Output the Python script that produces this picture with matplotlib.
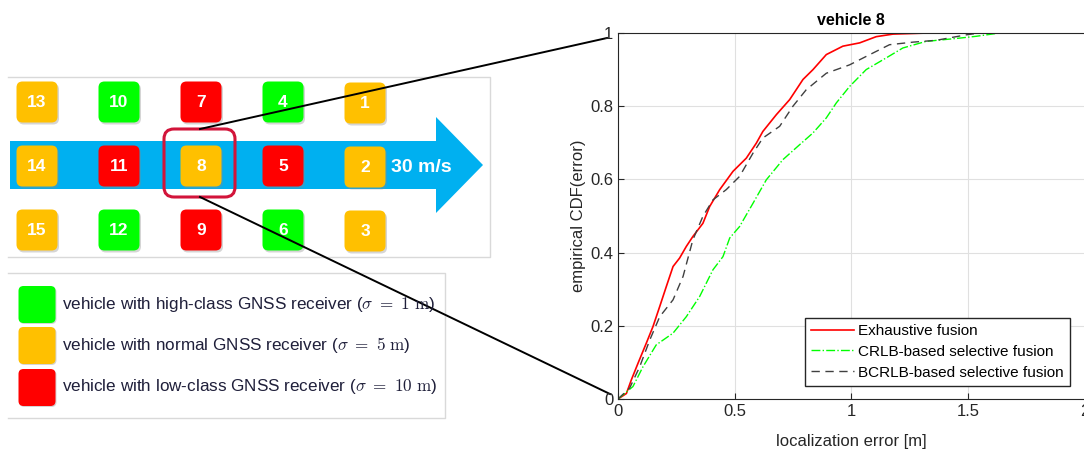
import matplotlib
matplotlib.use("Agg")
import matplotlib.pyplot as plt
from matplotlib.patches import FancyBboxPatch, Polygon

plt.rcParams["font.family"] = ["Liberation Sans", "DejaVu Sans"]
plt.rcParams["mathtext.fontset"] = "cm"

# vehicle grid (rows top->bottom, columns left->right)
vehicle_ids = [[13, 10, 7, 4, 1],
               [14, 11, 8, 5, 2],
               [15, 12, 9, 6, 3]]
vehicle_class = [["normal", "high", "low", "high", "normal"],
                 ["normal", "low", "normal", "low", "normal"],
                 ["normal", "high", "low", "high", "normal"]]
class_colors = {"high": "#00FF00", "normal": "#FFC000", "low": "#FF0000"}
legend_labels = [
    ("high", r"vehicle with high-class GNSS receiver ($\sigma\ =\ 1\ \mathrm{m}$)"),
    ("normal", r"vehicle with normal GNSS receiver ($\sigma\ =\ 5\ \mathrm{m}$)"),
    ("low", r"vehicle with low-class GNSS receiver ($\sigma\ =\ 10\ \mathrm{m}$)"),
]
speed_label = "30 m/s"
focus_vehicle = 8

# empirical CDF curves
exh_err = [0, 0.036, 0.057, 0.086, 0.121, 0.15, 0.179, 0.207, 0.236, 0.264, 0.293, 0.321,
           0.364, 0.393, 0.436, 0.493, 0.55, 0.593, 0.621, 0.679, 0.736, 0.793, 0.836,
           0.893, 0.964, 1.036, 1.107, 1.179, 1.33]
exh_cdf = [0, 0.015, 0.052, 0.098, 0.152, 0.198, 0.253, 0.307, 0.362, 0.385, 0.417, 0.444,
           0.48, 0.526, 0.572, 0.622, 0.658, 0.699, 0.731, 0.777, 0.818, 0.873, 0.9,
           0.941, 0.964, 0.973, 0.99, 0.997, 1.0]
crlb_err = [0, 0.064, 0.107, 0.164, 0.236, 0.293, 0.35, 0.407, 0.45, 0.479, 0.521, 0.579,
            0.636, 0.707, 0.779, 0.836, 0.893, 0.936, 0.993, 1.064, 1.15, 1.221, 1.32,
            1.464, 1.536, 1.636]
crlb_cdf = [0, 0.034, 0.088, 0.148, 0.18, 0.225, 0.28, 0.353, 0.389, 0.44, 0.471, 0.535,
            0.599, 0.654, 0.695, 0.727, 0.768, 0.809, 0.854, 0.9, 0.932, 0.959, 0.977,
            0.986, 0.991, 1.0]
bcrlb_err = [0, 0.05, 0.093, 0.136, 0.179, 0.236, 0.279, 0.321, 0.364, 0.407, 0.464, 0.521,
             0.579, 0.621, 0.693, 0.75, 0.807, 0.893, 0.993, 1.064, 1.164, 1.264, 1.364,
             1.493, 1.55]
bcrlb_cdf = [0, 0.03, 0.088, 0.161, 0.225, 0.271, 0.335, 0.435, 0.499, 0.544, 0.572, 0.608,
             0.672, 0.713, 0.745, 0.8, 0.845, 0.89, 0.913, 0.936, 0.968, 0.975, 0.98,
             0.995, 1.0]

W, H = 1084, 450
fig = plt.figure(figsize=(W / 100, H / 100), dpi=100)

# ---- left: scenario diagram, drawn in pixel coordinates ----
ov = fig.add_axes([0, 0, 1, 1])
ov.set_xlim(0, W)
ov.set_ylim(H, 0)
ov.axis("off")

panel = "#d9d9d9"
ov.plot([8, 490, 490, 8], [77, 77, 257, 257], color=panel, lw=1)
ov.plot([8, 445, 445, 8], [273, 273, 418, 418], color=panel, lw=1)

# arrow
ov.add_patch(Polygon([(10, 141), (436, 141), (436, 117), (483, 165), (436, 213),
                      (436, 189), (10, 189)], closed=True, color="#00B0F0", lw=0))
ov.text(421, 167, speed_label, color="white", fontsize=14, fontweight="bold",
        ha="center", va="center")

col_x = [37, 119, 201, 283, 365]
row_y = [102, 166, 230]
box = 41
for r, row in enumerate(vehicle_ids):
    for c, vid in enumerate(row):
        cx, cy = col_x[c], row_y[r] + (1 if c == 4 else 0)
        ov.add_patch(FancyBboxPatch((cx - box / 2 + 1.5, cy - box / 2 + 2), box, box,
                                    boxstyle="round,pad=0,rounding_size=6",
                                    fc="#888888", ec="none", alpha=0.35))
        ov.add_patch(FancyBboxPatch((cx - box / 2, cy - box / 2), box, box,
                                    boxstyle="round,pad=0,rounding_size=6",
                                    fc=class_colors[vehicle_class[r][c]], ec="none"))
        ov.text(cx, cy + 0.5, str(vid), color="white", fontsize=12.5, fontweight="bold",
                ha="center", va="center")

# highlight around the focus vehicle
ov.add_patch(FancyBboxPatch((164, 129), 71, 68, boxstyle="round,pad=0,rounding_size=10",
                            fc="none", ec="#D2143A", lw=2.2))

# zoom lines to the CDF plot
ov.plot([200, 607], [129, 38], color="black", lw=1.4)
ov.plot([200, 610], [197, 394], color="black", lw=1.4)

# class legend
leg_y = [304, 345, 387]
for (cls, label), y in zip(legend_labels, leg_y):
    ov.add_patch(FancyBboxPatch((19.5, y - 17), 37, 37, boxstyle="round,pad=0,rounding_size=5",
                                fc="#888888", ec="none", alpha=0.35))
    ov.add_patch(FancyBboxPatch((18.5, y - 18), 37, 37, boxstyle="round,pad=0,rounding_size=5",
                                fc=class_colors[cls], ec="none"))
    ov.text(62, y, label, color="#1f1f3a", fontsize=12.3, ha="left", va="center")

# ---- right: empirical CDF ----
ax = fig.add_axes([618 / W, 1 - 399 / H, 466.5 / W, 366 / H])
ax.plot(exh_err, exh_cdf, color="#FF0000", lw=1.2, label="Exhaustive fusion")
ax.plot(crlb_err, crlb_cdf, color="#00FF00", lw=1.0, ls="-.", label="CRLB-based selective fusion")
ax.plot(bcrlb_err, bcrlb_cdf, color="#404040", lw=1.0, ls=(0, (6, 4)),
        label="BCRLB-based selective fusion")
ax.set_xlim(0, 2)
ax.set_ylim(0, 1)
ax.set_xticks([0, 0.5, 1, 1.5, 2])
ax.set_xticklabels(["0", "0.5", "1", "1.5", "2"])
ax.set_yticks([0, 0.2, 0.4, 0.6, 0.8, 1])
ax.set_yticklabels(["0", "0.2", "0.4", "0.6", "0.8", "1"])
ax.tick_params(direction="in", labelsize=12, colors="#262626", length=4)
ax.grid(True, color="#e0e0e0", lw=0.8)
for s in ax.spines.values():
    s.set_color("#262626")
ax.set_xlabel("localization error [m]", fontsize=12, color="#262626", labelpad=11)
ax.set_ylabel("empirical CDF(error)", fontsize=12, color="#262626", labelpad=3)
ax.set_title(f"vehicle {focus_vehicle}", fontsize=11.5, fontweight="bold", pad=6)
ax.legend(loc="lower right", bbox_to_anchor=(0.969, 0.036), fontsize=11, frameon=True,
          fancybox=False, edgecolor="#262626", framealpha=1, handlelength=2.8,
          handletextpad=0.3, borderaxespad=0, labelspacing=0.45, borderpad=0.4)

fig.savefig("out.png", dpi=100)
